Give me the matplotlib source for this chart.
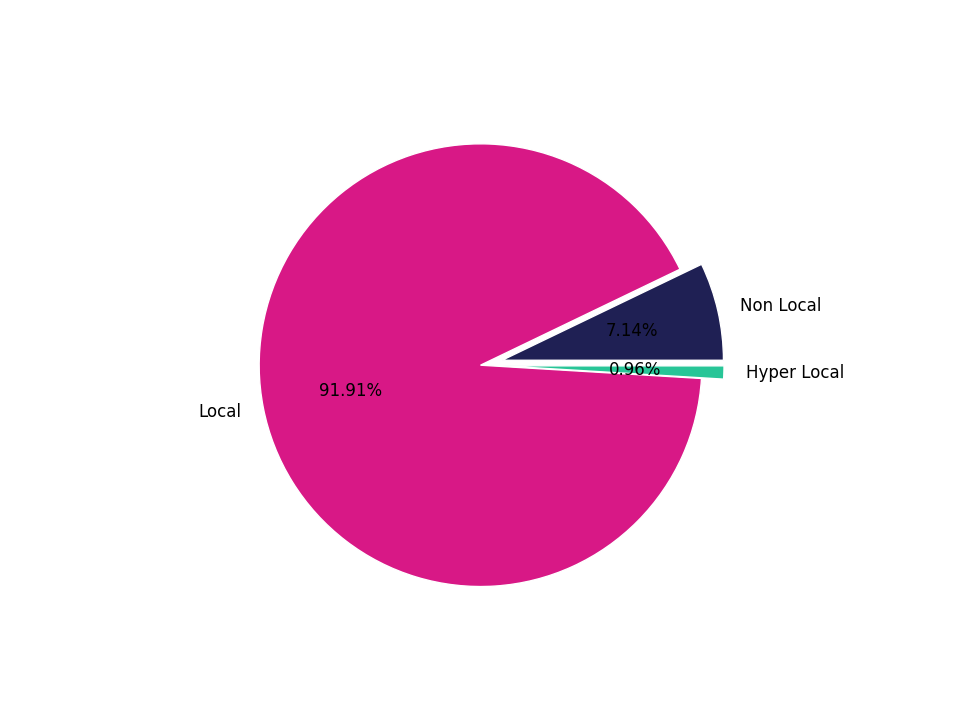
import matplotlib
matplotlib.use('Agg')
import matplotlib.pyplot as plt

# share of each locality segment, in percent
labels = ['Non Local', 'Local', 'Hyper Local']
shares = [7.138, 91.906, 0.956]
colors = ['#1f2054', '#d81886', '#27c597']
explode = [0.1, 0, 0.1]

fig = plt.figure(figsize=(9.6, 7.2), dpi=100)
ax = fig.add_axes([0.2123, 0.1085, 0.5765, 0.7686])
ax.pie(shares, labels=labels, colors=colors, explode=explode,
       autopct='%1.2f%%', wedgeprops={'edgecolor': 'white', 'linewidth': 1},
       textprops={'fontsize': 12})
fig.savefig('out.png', dpi=100)
